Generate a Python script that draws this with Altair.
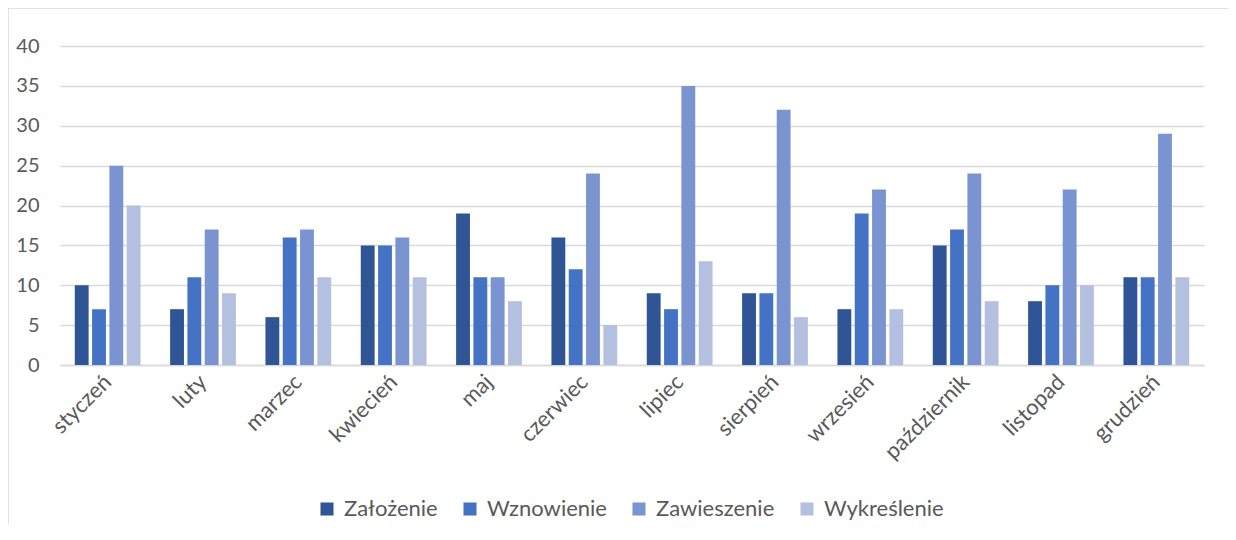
import altair as alt
import pandas as pd

months = ["styczeń", "luty", "marzec", "kwiecień", "maj", "czerwiec", "lipiec",
          "sierpień", "wrzesień", "październik", "listopad", "grudzień"]
series = ["Założenie", "Wznowienie", "Zawieszenie", "Wykreślenie"]
zalozenie = [10, 7, 6, 15, 19, 16, 9, 9, 7, 15, 8, 11]
wznowienie = [7, 11, 16, 15, 11, 12, 7, 9, 19, 17, 10, 11]
zawieszenie = [25, 17, 17, 16, 11, 24, 35, 32, 22, 24, 22, 29]
wykreslenie = [20, 9, 11, 11, 8, 5, 13, 6, 7, 8, 10, 11]
colors = ["#2F5597", "#4472C4", "#7A93D1", "#B3C0E0"]

rows = []
for name, vals in zip(series, [zalozenie, wznowienie, zawieszenie, wykreslenie]):
    for m, v in zip(months, vals):
        rows.append({"miesiac": m, "seria": name, "wartosc": v})
df = pd.DataFrame(rows)

FONT = "Lato"
TXT = "#595959"

bars = alt.Chart(df).mark_bar().encode(
    x=alt.X("miesiac:N", sort=months, title=None,
            scale=alt.Scale(paddingInner=0.31, paddingOuter=0.155),
            axis=alt.Axis(labelAngle=-45, labelAlign="right", labelBaseline="middle",
                          labelPadding=13, ticks=False, domainColor="#d9d9d9",
                          domainWidth=1.5, labelFont=FONT, labelFontSize=22,
                          labelColor=TXT, grid=False)),
    xOffset=alt.XOffset("seria:N", sort=series,
                        scale=alt.Scale(paddingInner=0.2, paddingOuter=0)),
    y=alt.Y("wartosc:Q", title=None,
            scale=alt.Scale(domain=[0, 40], nice=False),
            axis=alt.Axis(values=[0, 5, 10, 15, 20, 25, 30, 35, 40], ticks=False,
                          domain=False, gridColor="#d9d9d9", gridWidth=1.3,
                          labelPadding=21, labelFont=FONT, labelFontSize=20,
                          labelColor=TXT)),
    color=alt.Color("seria:N", sort=series,
                    scale=alt.Scale(domain=series, range=colors),
                    legend=alt.Legend(title=None, orient="none", direction="horizontal",
                                      legendX=256, legendY=452, symbolType="square",
                                      symbolSize=170, symbolStrokeWidth=0,
                                      labelFont=FONT, labelFontSize=22,
                                      labelColor=TXT, columnPadding=21,
                                      labelOffset=6)),
)

edge_df = pd.DataFrame({"k": [0]})
top_edge = alt.Chart(edge_df).mark_rule(color="#d9d9d9", strokeWidth=1.5).encode(
    x=alt.value(-52), x2=alt.value(1200), y=alt.value(-38)
)
left_edge = alt.Chart(edge_df).mark_rule(color="#d9d9d9", strokeWidth=1.5).encode(
    x=alt.value(-52), y=alt.value(-38), y2=alt.value(600)
)

chart = alt.layer(top_edge, left_edge, bars).properties(
    width=1144, height=319,
    autosize=alt.AutoSizeParams(type="none"),
    padding={"left": 52, "top": 38, "right": 24, "bottom": 159},
).configure_view(stroke=None)

chart.save("out.html", embed_options={"renderer": "svg", "actions": False})
